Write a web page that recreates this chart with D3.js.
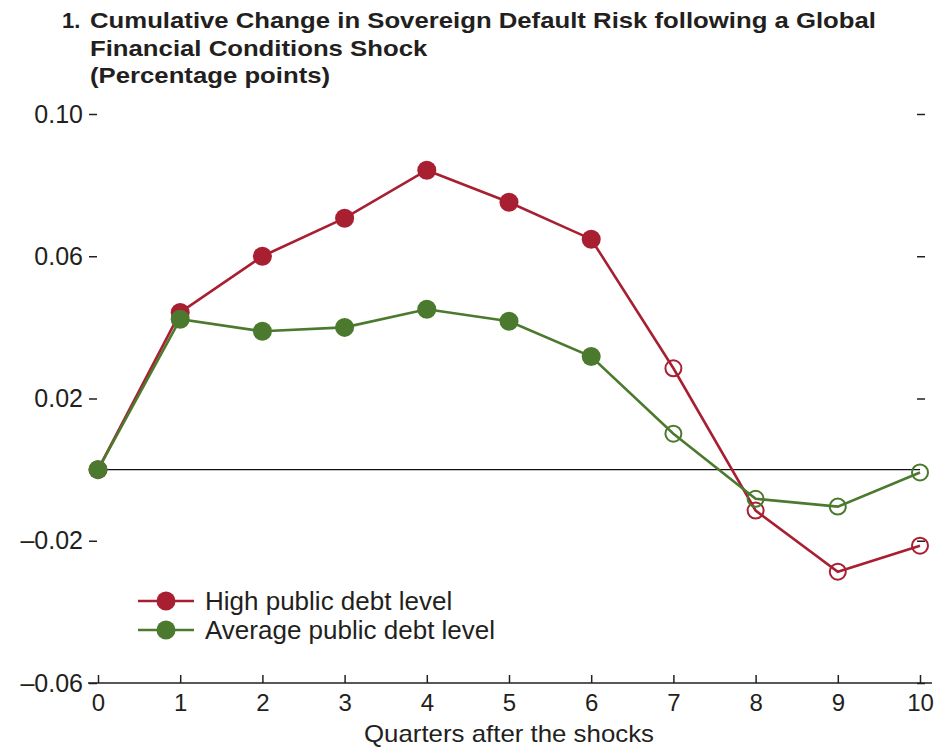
<!DOCTYPE html>
<html><head><meta charset="utf-8">
<script src="https://cdn.jsdelivr.net/npm/d3@7"></script>
<style>body{margin:0;background:#fff}svg{display:block}</style>
</head><body>
<svg id="c" width="938" height="748"></svg>
<script>
const quarters = [0,1,2,3,4,5,6,7,8,9,10];
const highDebt = [0,0.0442,0.060,0.0707,0.0842,0.0752,0.0648,0.0285,-0.0115,-0.0287,-0.0214];
const avgDebt  = [0,0.0423,0.0389,0.0400,0.0451,0.0417,0.0318,0.0101,-0.0082,-0.0104,-0.0008];
// quarters from this index onward are drawn hollow
const hollowFrom = 7;
const yTicks = [0.10,0.06,0.02,-0.02,-0.06];
const yTickLabels = ["0.10","0.06","0.02","\u20130.02","\u20130.06"];
const seriesNames = ["High public debt level","Average public debt level"];
const titleNumber = "1.";
const titleLines = ["Cumulative Change in Sovereign Default Risk following a Global","Financial Conditions Shock","(Percentage points)"];

const red = "#a81f32", green = "#4b7a2f";
const ink = "#231f20";
const svg = d3.select("#c");
const font = "'Liberation Sans', Arial, sans-serif";

const x = d3.scaleLinear().domain([0,10]).range([98,920]);
const y = d3.scaleLinear().domain([-0.06,0.10]).range([683,114]);

// title
svg.append("text").attr("x",62).attr("y",28).attr("font-family",font).attr("font-weight","bold")
  .attr("font-size",22).attr("fill",ink).text(titleNumber);
const tl = [];
titleLines.forEach((t,i)=>{
  tl.push(svg.append("text").attr("x",90).attr("y",28+27.5*i).attr("font-family",font).attr("font-weight","bold")
    .attr("font-size",22).attr("fill",ink).text(t));
});
const w0 = tl[0].node().getComputedTextLength();
const k = 786 / w0;
tl.forEach(t=>{
  const w = t.node().getComputedTextLength();
  t.attr("textLength", w*k).attr("lengthAdjust","spacingAndGlyphs");
});

// y axis left (ticks only, labels)
const gl = svg.append("g").attr("transform","translate(97,0)")
  .call(d3.axisLeft(y).tickValues(yTicks).tickSize(8).tickPadding(6).tickFormat((d,i)=>yTickLabels[i]));
gl.select(".domain").remove();
gl.selectAll("text").attr("font-family",font).attr("font-size",25).attr("fill",ink);
gl.selectAll("line").attr("stroke",ink).attr("stroke-width",1.5);

// right ticks
const gr = svg.append("g").attr("transform","translate(917,0)")
  .call(d3.axisRight(y).tickValues(yTicks).tickSize(8).tickFormat(""));
gr.select(".domain").remove();
gr.selectAll("line").attr("stroke",ink).attr("stroke-width",1.5);

// x axis
const gx = svg.append("g").attr("transform","translate(0,683)")
  .call(d3.axisBottom(x).tickValues(quarters).tickSize(-8).tickPadding(11).tickFormat(d3.format("d")));
gx.select(".domain").attr("d","M88,0H932").attr("stroke",ink).attr("stroke-width",1.5);
gx.selectAll("line").attr("stroke",ink).attr("stroke-width",1.5);
gx.selectAll("text").attr("font-family",font).attr("font-size",24).attr("fill",ink).attr("dy","0.71em");

svg.append("text").attr("x",509).attr("y",742).attr("text-anchor","middle").attr("font-family",font)
  .attr("font-size",24).attr("fill",ink)
  .attr("textLength",290).attr("lengthAdjust","spacingAndGlyphs")
  .text("Quarters after the shocks");

// zero line
svg.append("line").attr("x1",x(0)).attr("x2",x(10)).attr("y1",y(0)).attr("y2",y(0))
  .attr("stroke","#111").attr("stroke-width",1.2);

const line = d3.line().x((d,i)=>x(quarters[i])).y(d=>y(d));
function drawSeries(vals,color){
  svg.append("path").attr("d",line(vals)).attr("fill","none").attr("stroke",color).attr("stroke-width",2.6);
  svg.append("g").selectAll("circle").data(vals).join("circle")
    .attr("cx",(d,i)=>x(quarters[i])).attr("cy",d=>y(d))
    .attr("r",(d,i)=>i>=hollowFrom?8:9.5)
    .attr("fill",(d,i)=>i>=hollowFrom?"none":color)
    .attr("stroke",color).attr("stroke-width",(d,i)=>i>=hollowFrom?2:0);
}
drawSeries(highDebt,red);
drawSeries(avgDebt,green);

// legend
[[red,0],[green,1]].forEach(([c,i])=>{
  const ly = 601+29*i;
  svg.append("line").attr("x1",138).attr("x2",194).attr("y1",ly).attr("y2",ly).attr("stroke",c).attr("stroke-width",2.6);
  svg.append("circle").attr("cx",166).attr("cy",ly).attr("r",9.5).attr("fill",c);
  svg.append("text").attr("x",205).attr("y",ly).attr("dy","0.35em").attr("font-family",font)
    .attr("font-size",26).attr("fill",ink).text(seriesNames[i]);
});
</script>
</body></html>
